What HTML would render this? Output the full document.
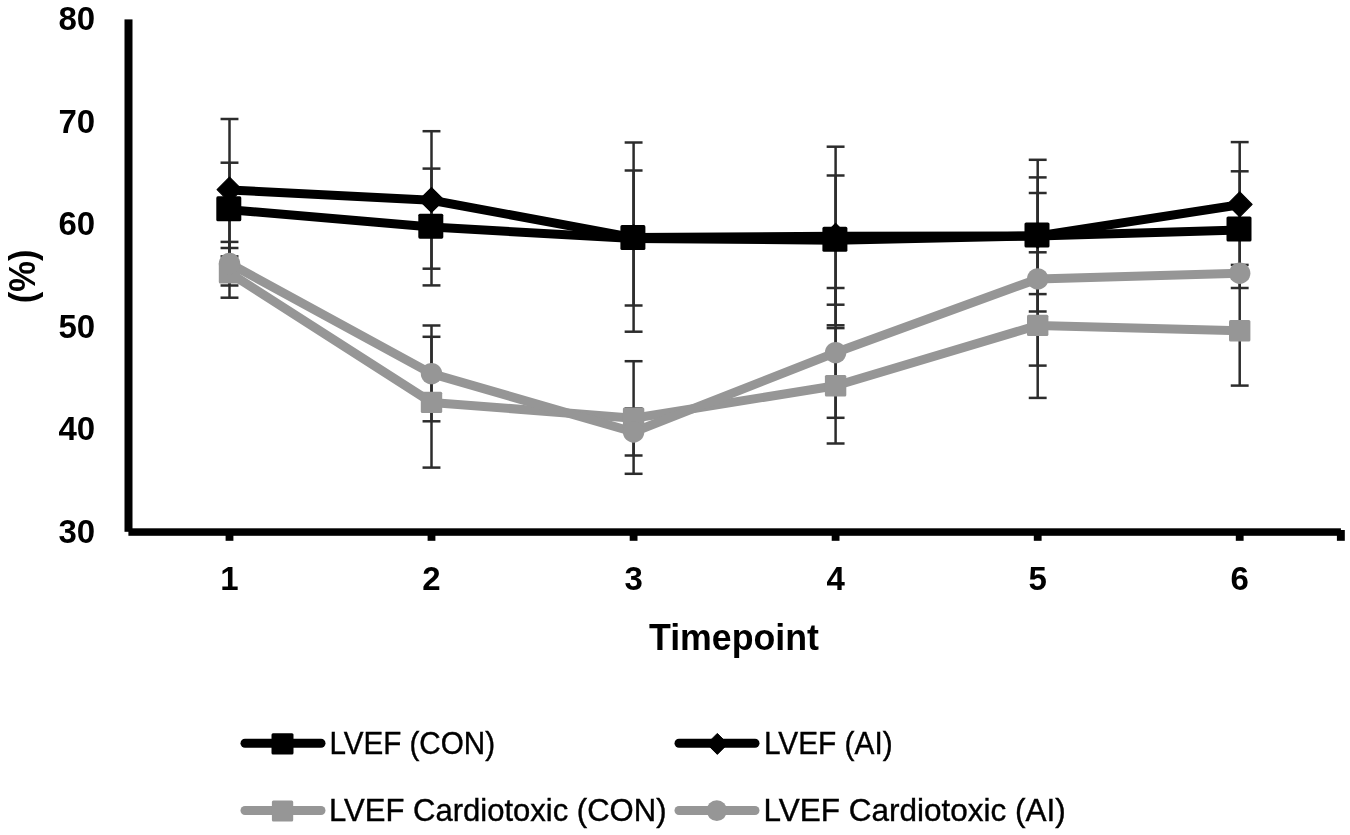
<!DOCTYPE html>
<html><head><meta charset="utf-8"><style>
html,body{margin:0;padding:0;background:#fff;}
svg{display:block;will-change:transform;}
text{font-family:"Liberation Sans",sans-serif;fill:#000;}
.b{font-weight:bold;}
.lg{stroke:#000;stroke-width:0.4px;}
</style></head><body>
<svg width="1350" height="835" viewBox="0 0 1350 835">
<rect width="1350" height="835" fill="#fff"/>
<!-- axes -->
<g fill="#000">
<rect x="124.5" y="19.4" width="8" height="512.4"/>
<rect x="128.4" y="528.3" width="1212.5" height="7.5"/>
<rect x="225.60" y="530" width="7.8" height="10.8"/><rect x="427.60" y="530" width="7.8" height="10.8"/><rect x="629.70" y="530" width="7.8" height="10.8"/><rect x="831.70" y="530" width="7.8" height="10.8"/><rect x="1033.80" y="530" width="7.8" height="10.8"/><rect x="1235.80" y="530" width="7.8" height="10.8"/>
<rect x="1336.9" y="530" width="7.9" height="10.8"/>
</g>
<text x="95.2" y="30.15" text-anchor="end" class="b" style="font-size:33px">80</text>
<text x="95.2" y="132.70" text-anchor="end" class="b" style="font-size:33px">70</text>
<text x="95.2" y="235.30" text-anchor="end" class="b" style="font-size:33px">60</text>
<text x="95.2" y="337.90" text-anchor="end" class="b" style="font-size:33px">50</text>
<text x="95.2" y="440.40" text-anchor="end" class="b" style="font-size:33px">40</text>
<text x="95.2" y="543.00" text-anchor="end" class="b" style="font-size:33px">30</text>

<text x="229.5" y="589.9" text-anchor="middle" class="b" style="font-size:33px">1</text>
<text x="431.5" y="589.9" text-anchor="middle" class="b" style="font-size:33px">2</text>
<text x="633.6" y="589.9" text-anchor="middle" class="b" style="font-size:33px">3</text>
<text x="835.6" y="589.9" text-anchor="middle" class="b" style="font-size:33px">4</text>
<text x="1037.7" y="589.9" text-anchor="middle" class="b" style="font-size:33px">5</text>
<text x="1239.7" y="589.9" text-anchor="middle" class="b" style="font-size:33px">6</text>

<text x="649" y="649.8" class="b" style="font-size:36px" textLength="170" lengthAdjust="spacingAndGlyphs">Timepoint</text>
<text transform="translate(34.5,303.2) rotate(-90)" class="b" style="font-size:36px" textLength="53.8" lengthAdjust="spacingAndGlyphs">(%)</text>
<!-- error bars -->
<g stroke="#2c2c2c" stroke-width="2.5" fill="none">
<line x1="229.5" y1="162.70" x2="229.5" y2="256.40"/>
<line x1="220.55" y1="162.70" x2="238.45" y2="162.70"/>
<line x1="220.55" y1="256.40" x2="238.45" y2="256.40"/>
<line x1="431.5" y1="168.60" x2="431.5" y2="285.40"/>
<line x1="422.55" y1="168.60" x2="440.45" y2="168.60"/>
<line x1="422.55" y1="285.40" x2="440.45" y2="285.40"/>
<line x1="633.6" y1="170.50" x2="633.6" y2="305.50"/>
<line x1="624.65" y1="170.50" x2="642.5500000000001" y2="170.50"/>
<line x1="624.65" y1="305.50" x2="642.5500000000001" y2="305.50"/>
<line x1="835.6" y1="175.50" x2="835.6" y2="304.70"/>
<line x1="826.65" y1="175.50" x2="844.5500000000001" y2="175.50"/>
<line x1="826.65" y1="304.70" x2="844.5500000000001" y2="304.70"/>
<line x1="1037.7" y1="177.40" x2="1037.7" y2="294.10"/>
<line x1="1028.75" y1="177.40" x2="1046.65" y2="177.40"/>
<line x1="1028.75" y1="294.10" x2="1046.65" y2="294.10"/>
<line x1="1239.7" y1="171.30" x2="1239.7" y2="288.00"/>
<line x1="1230.75" y1="171.30" x2="1248.65" y2="171.30"/>
<line x1="1230.75" y1="288.00" x2="1248.65" y2="288.00"/>
<line x1="229.5" y1="119.00" x2="229.5" y2="260.20"/>
<line x1="220.55" y1="119.00" x2="238.45" y2="119.00"/>
<line x1="220.55" y1="260.20" x2="238.45" y2="260.20"/>
<line x1="431.5" y1="131.20" x2="431.5" y2="268.70"/>
<line x1="422.55" y1="131.20" x2="440.45" y2="131.20"/>
<line x1="422.55" y1="268.70" x2="440.45" y2="268.70"/>
<line x1="633.6" y1="142.50" x2="633.6" y2="331.70"/>
<line x1="624.65" y1="142.50" x2="642.5500000000001" y2="142.50"/>
<line x1="624.65" y1="331.70" x2="642.5500000000001" y2="331.70"/>
<line x1="835.6" y1="146.70" x2="835.6" y2="325.30"/>
<line x1="826.65" y1="146.70" x2="844.5500000000001" y2="146.70"/>
<line x1="826.65" y1="325.30" x2="844.5500000000001" y2="325.30"/>
<line x1="1037.7" y1="159.80" x2="1037.7" y2="311.50"/>
<line x1="1028.75" y1="159.80" x2="1046.65" y2="159.80"/>
<line x1="1028.75" y1="311.50" x2="1046.65" y2="311.50"/>
<line x1="1239.7" y1="142.10" x2="1239.7" y2="264.90"/>
<line x1="1230.75" y1="142.10" x2="1248.65" y2="142.10"/>
<line x1="1230.75" y1="264.90" x2="1248.65" y2="264.90"/>
<line x1="229.5" y1="248.00" x2="229.5" y2="297.70"/>
<line x1="220.55" y1="248.00" x2="238.45" y2="248.00"/>
<line x1="220.55" y1="297.70" x2="238.45" y2="297.70"/>
<line x1="431.5" y1="336.80" x2="431.5" y2="467.60"/>
<line x1="422.55" y1="336.80" x2="440.45" y2="336.80"/>
<line x1="422.55" y1="467.60" x2="440.45" y2="467.60"/>
<line x1="633.6" y1="361.20" x2="633.6" y2="473.80"/>
<line x1="624.65" y1="361.20" x2="642.5500000000001" y2="361.20"/>
<line x1="624.65" y1="473.80" x2="642.5500000000001" y2="473.80"/>
<line x1="835.6" y1="328.10" x2="835.6" y2="443.50"/>
<line x1="826.65" y1="328.10" x2="844.5500000000001" y2="328.10"/>
<line x1="826.65" y1="443.50" x2="844.5500000000001" y2="443.50"/>
<line x1="1037.7" y1="252.30" x2="1037.7" y2="397.90"/>
<line x1="1028.75" y1="252.30" x2="1046.65" y2="252.30"/>
<line x1="1028.75" y1="397.90" x2="1046.65" y2="397.90"/>
<line x1="1239.7" y1="275.80" x2="1239.7" y2="385.60"/>
<line x1="1230.75" y1="275.80" x2="1248.65" y2="275.80"/>
<line x1="1230.75" y1="385.60" x2="1248.65" y2="385.60"/>
<line x1="229.5" y1="241.90" x2="229.5" y2="285.50"/>
<line x1="220.55" y1="241.90" x2="238.45" y2="241.90"/>
<line x1="220.55" y1="285.50" x2="238.45" y2="285.50"/>
<line x1="431.5" y1="325.50" x2="431.5" y2="421.30"/>
<line x1="422.55" y1="325.50" x2="440.45" y2="325.50"/>
<line x1="422.55" y1="421.30" x2="440.45" y2="421.30"/>
<line x1="633.6" y1="408.50" x2="633.6" y2="455.50"/>
<line x1="624.65" y1="408.50" x2="642.5500000000001" y2="408.50"/>
<line x1="624.65" y1="455.50" x2="642.5500000000001" y2="455.50"/>
<line x1="835.6" y1="288.00" x2="835.6" y2="417.80"/>
<line x1="826.65" y1="288.00" x2="844.5500000000001" y2="288.00"/>
<line x1="826.65" y1="417.80" x2="844.5500000000001" y2="417.80"/>
<line x1="1037.7" y1="193.00" x2="1037.7" y2="365.60"/>
<line x1="1028.75" y1="193.00" x2="1046.65" y2="193.00"/>
<line x1="1028.75" y1="365.60" x2="1046.65" y2="365.60"/>
</g>
<!-- lines -->
<g fill="none" stroke-width="9" stroke-linejoin="round" stroke-linecap="round">
<polyline points="229.5,209.70 431.5,227.10 633.6,238.50 835.6,240.20 1037.7,235.90 1239.7,229.90" stroke="#000"/>
<polyline points="229.5,189.90 431.5,200.30 633.6,237.60 835.6,236.20 1037.7,235.90 1239.7,204.70" stroke="#000"/>
<polyline points="229.5,272.85 431.5,402.40 633.6,418.20 835.6,385.80 1037.7,325.40 1239.7,330.70" stroke="#969696"/>
<polyline points="229.5,263.50 431.5,373.60 633.6,432.00 835.6,352.60 1037.7,278.90 1239.7,273.20" stroke="#969696"/>
</g>
<!-- markers -->
<rect x="216.30" y="196.30" width="25" height="25" rx="1.6" fill="#000"/>
<rect x="418.30" y="213.70" width="25" height="25" rx="1.6" fill="#000"/>
<rect x="620.40" y="225.10" width="25" height="25" rx="1.6" fill="#000"/>
<rect x="822.40" y="226.80" width="25" height="25" rx="1.6" fill="#000"/>
<rect x="1024.50" y="222.50" width="25" height="25" rx="1.6" fill="#000"/>
<rect x="1226.50" y="216.50" width="25" height="25" rx="1.6" fill="#000"/>
<path d="M229.5,177.20 L241.90,189.6 L229.5,202.00 L217.10,189.6 Z" fill="#000" stroke="#000" stroke-width="1.2" stroke-linejoin="round"/>
<path d="M431.5,187.60 L443.90,200.0 L431.5,212.40 L419.10,200.0 Z" fill="#000" stroke="#000" stroke-width="1.2" stroke-linejoin="round"/>
<path d="M633.6,224.90 L646.00,237.3 L633.6,249.70 L621.20,237.3 Z" fill="#000" stroke="#000" stroke-width="1.2" stroke-linejoin="round"/>
<path d="M835.6,223.50 L848.00,235.9 L835.6,248.30 L823.20,235.9 Z" fill="#000" stroke="#000" stroke-width="1.2" stroke-linejoin="round"/>
<path d="M1037.7,223.20 L1050.10,235.6 L1037.7,248.00 L1025.30,235.6 Z" fill="#000" stroke="#000" stroke-width="1.2" stroke-linejoin="round"/>
<path d="M1239.7,192.00 L1252.10,204.4 L1239.7,216.80 L1227.30,204.4 Z" fill="#000" stroke="#000" stroke-width="1.2" stroke-linejoin="round"/>
<rect x="218.80" y="262.15" width="21.4" height="21.4" rx="1.5" fill="#969696"/>
<rect x="420.80" y="391.70" width="21.4" height="21.4" rx="1.5" fill="#969696"/>
<rect x="622.90" y="407.50" width="21.4" height="21.4" rx="1.5" fill="#969696"/>
<rect x="824.90" y="375.10" width="21.4" height="21.4" rx="1.5" fill="#969696"/>
<rect x="1027.00" y="314.70" width="21.4" height="21.4" rx="1.5" fill="#969696"/>
<rect x="1229.00" y="320.00" width="21.4" height="21.4" rx="1.5" fill="#969696"/>
<circle cx="229.5" cy="263.5" r="10.7" fill="#969696"/>
<circle cx="431.5" cy="373.6" r="10.7" fill="#969696"/>
<circle cx="633.6" cy="432.0" r="10.7" fill="#969696"/>
<circle cx="835.6" cy="352.6" r="10.7" fill="#969696"/>
<circle cx="1037.7" cy="278.9" r="10.7" fill="#969696"/>
<circle cx="1239.7" cy="273.2" r="10.7" fill="#969696"/>
<!-- legend -->
<g stroke-width="9" stroke-linecap="round">
<line x1="245" y1="743.3" x2="321" y2="743.3" stroke="#000"/>
<line x1="679" y1="743.3" x2="755" y2="743.3" stroke="#000"/>
<line x1="245" y1="810.5" x2="321" y2="810.5" stroke="#969696"/>
<line x1="679" y1="810.5" x2="755" y2="810.5" stroke="#969696"/>
</g>
<rect x="271.5" y="733.2" width="22" height="21.4" rx="1.5" fill="#000"/>
<path d="M717.3,733.4 L727.8,743.9 L717.3,754.4 L706.8,743.9 Z" fill="#000" stroke="#000" stroke-width="1" stroke-linejoin="round"/>
<rect x="271.9" y="800.5" width="21.3" height="21.1" rx="1.5" fill="#969696"/>
<circle cx="716.8" cy="810.6" r="10.3" fill="#969696"/>
<text x="329.4" y="753.6" class="lg" style="font-size:32px" textLength="165.6" lengthAdjust="spacingAndGlyphs">LVEF (CON)</text>
<text x="764.0" y="753.6" class="lg" style="font-size:32px" textLength="128.6" lengthAdjust="spacingAndGlyphs">LVEF (AI)</text>
<text x="329.1" y="820.7" class="lg" style="font-size:32px" textLength="337.4" lengthAdjust="spacingAndGlyphs">LVEF Cardiotoxic (CON)</text>
<text x="763.6" y="820.7" class="lg" style="font-size:32px" textLength="302.1" lengthAdjust="spacingAndGlyphs">LVEF Cardiotoxic (AI)</text>
</svg>
</body></html>
